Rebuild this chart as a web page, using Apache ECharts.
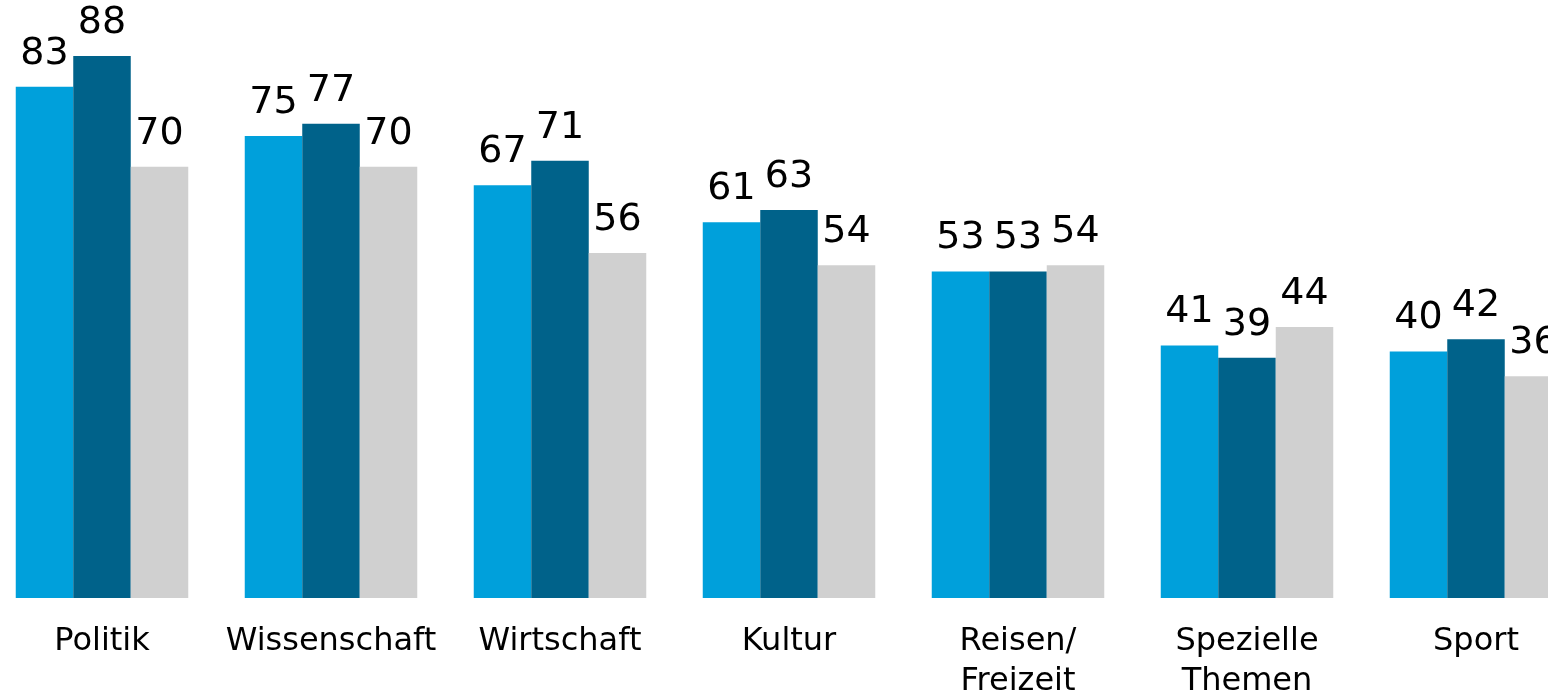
<!DOCTYPE html>
<html>
<head>
<meta charset="utf-8">
<script src="https://cdn.jsdelivr.net/npm/echarts@6/dist/echarts.min.js"></script>
<style>
  html, body { margin: 0; padding: 0; background: #fff; }
  #chart { width: 1548px; height: 694px; }
</style>
</head>
<body>
<div id="chart"></div>
<script>
// categories and values
const categories = ['Politik', 'Wissenschaft', 'Wirtschaft', 'Kultur', 'Reisen/\nFreizeit', 'Spezielle\nThemen', 'Sport']
const seriesA = [83, 75, 67, 61, 53, 41, 40]
const seriesB = [88, 77, 71, 63, 53, 39, 42]
const seriesC = [70, 70, 56, 54, 54, 44, 36]
const seriesNames = ['Reihe 1', 'Reihe 2', 'Reihe 3']
const colors = ['#00a0db', '#00628a', '#d0d0d0']

function bars(name, data, color){
    return {
        name: name,
        type: 'bar',
        data: data,
        barWidth: 57.5,
        barGap: '0%',
        itemStyle: { color: color },
        label: {
            show: true,
            position: 'top',
            distance: 14,
            color: '#000',
            fontFamily: 'DejaVu Sans',
            fontSize: 38
        }
    }
}

const myChart = echarts.init(document.getElementById('chart'))
const option = {
    animation: false,
    textStyle: { fontFamily: 'DejaVu Sans' },
    grid: {
        left: -12.5,
        width: 1603,
        top: -18,
        bottom: 96,
        containLabel: false,
        outerBoundsMode: 'none'
    },
    xAxis: {
        type: 'category',
        data: categories,
        axisLine: { show: false },
        axisTick: { show: false },
        axisLabel: {
            interval: 0,
            margin: 24,
            color: '#000',
            fontFamily: 'DejaVu Sans',
            fontSize: 32,
            lineHeight: 40
        }
    },
    yAxis: {
        type: 'value',
        min: 0,
        max: 100,
        show: false,
        splitLine: { show: false }
    },
    series: [
        bars(seriesNames[0], seriesA, colors[0]),
        bars(seriesNames[1], seriesB, colors[1]),
        bars(seriesNames[2], seriesC, colors[2])
    ]
};
myChart.setOption(option)
</script>
</body>
</html>
